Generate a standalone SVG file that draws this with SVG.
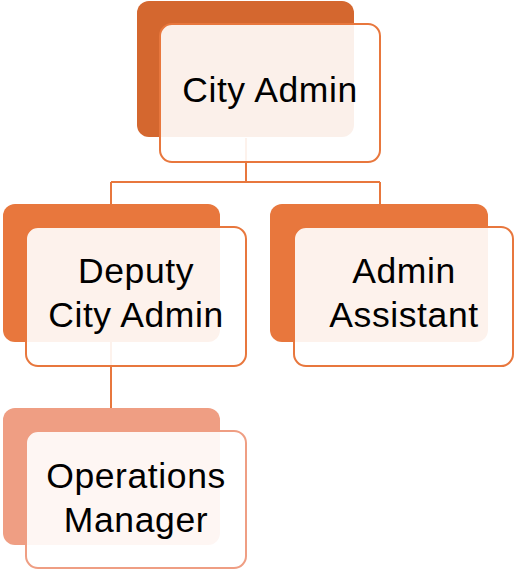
<svg xmlns="http://www.w3.org/2000/svg" width="514" height="569" viewBox="0 0 514 569">
<style>
.conn{fill:none;stroke:#E8773D;stroke-width:2}
.front{fill:#FFFFFF;fill-opacity:0.9;stroke:#E8773D;stroke-width:2}
.front2{fill:#FFFFFF;fill-opacity:0.9;stroke:#EF9E83;stroke-width:2}
.lbl{font-family:"Liberation Sans",Arial,sans-serif;font-size:35.5px;fill:#000;text-anchor:middle;letter-spacing:0.6px}
</style>
<rect width="514" height="569" fill="#FFFFFF"/>
<g id="connectors">
<path class="conn" d="M246 138 V182 M111 182 H380 M111 182 V204 M380 182 V204"/>
<path class="conn" d="M111 342 V408"/>
</g>
<g id="city-admin">
<rect x="137" y="1" width="217" height="136" rx="12" fill="#D4672F"/>
<rect class="front" x="160" y="24" width="220" height="138" rx="12"/>
<text class="lbl" x="270" y="102">City Admin</text>
</g>
<g id="deputy-city-admin">
<rect x="3" y="204" width="217" height="138" rx="12" fill="#E8773D"/>
<rect class="front" x="26" y="227" width="220" height="139" rx="12"/>
<text class="lbl" x="136" y="283">Deputy</text>
<text class="lbl" x="136" y="327">City Admin</text>
</g>
<g id="admin-assistant">
<rect x="270" y="204" width="218" height="138" rx="12" fill="#E8773D"/>
<rect class="front" x="294" y="227" width="219" height="139" rx="12"/>
<text class="lbl" x="404" y="283">Admin</text>
<text class="lbl" x="404" y="327">Assistant</text>
</g>
<g id="operations-manager">
<rect x="3" y="408" width="217" height="137" rx="12" fill="#EF9E83"/>
<rect class="front2" x="26" y="431" width="220" height="137" rx="12"/>
<text class="lbl" x="136" y="488">Operations</text>
<text class="lbl" x="136" y="532">Manager</text>
</g>
</svg>
